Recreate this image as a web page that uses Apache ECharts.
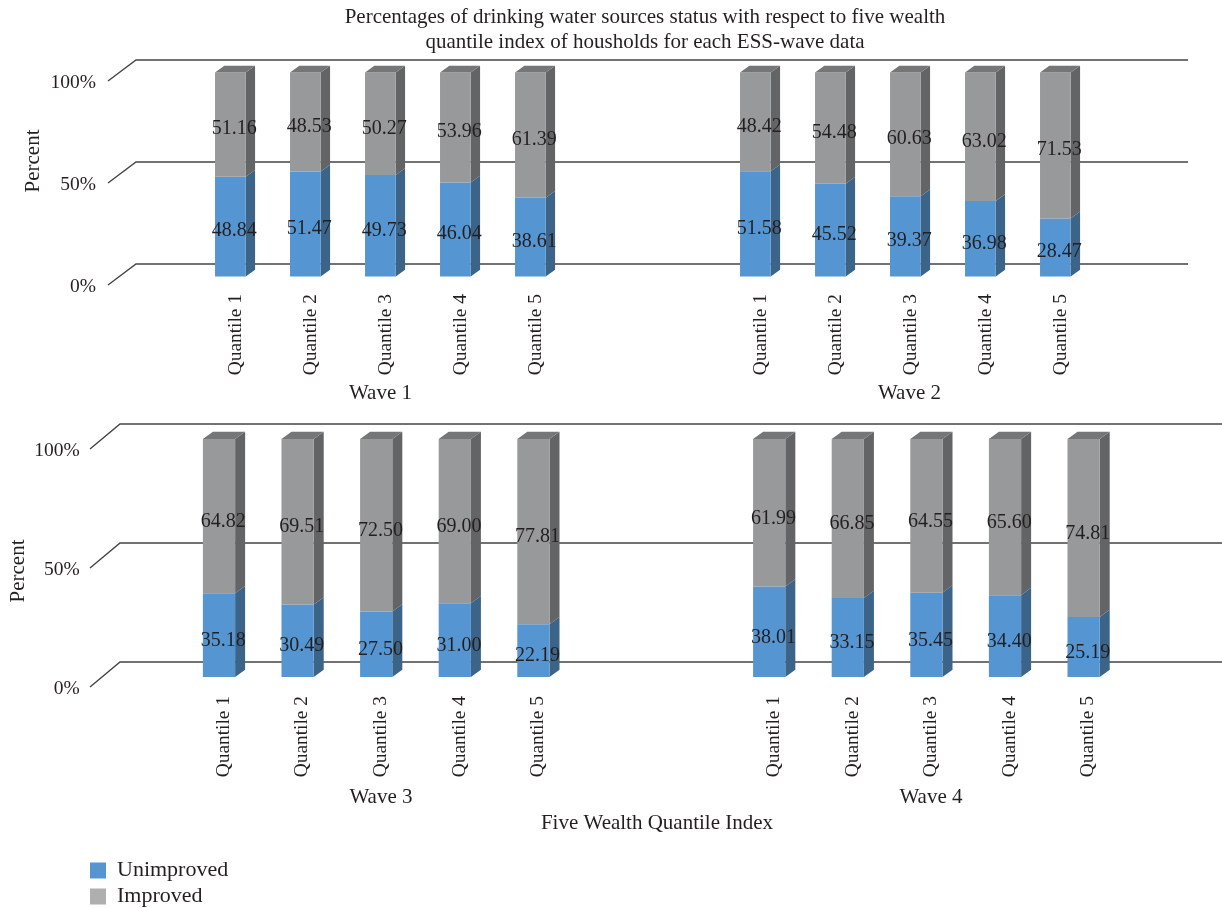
<!DOCTYPE html>
<html><head><meta charset="utf-8">
<style>html,body{margin:0;padding:0;background:#fff}#c{width:1222px;height:908px}</style>
<script src="https://cdn.jsdelivr.net/npm/echarts@6/dist/echarts.min.js"></script>
</head><body><div id="c"></div>
<script>
const categories = ['', 'Quantile 1','Quantile 2','Quantile 3','Quantile 4','Quantile 5','', '', 'Quantile 1','Quantile 2','Quantile 3','Quantile 4','Quantile 5',''];
const topUnimproved = [48.84,51.47,49.73,46.04,38.61, 51.58,45.52,39.37,36.98,28.47];
const topImproved   = [51.16,48.53,50.27,53.96,61.39, 48.42,54.48,60.63,63.02,71.53];
const botUnimproved = [35.18,30.49,27.50,31.00,22.19, 38.01,33.15,35.45,34.40,25.19];
const botImproved   = [64.82,69.51,72.50,69.00,77.81, 61.99,66.85,64.55,65.60,74.81];
const slotIndex = [1,2,3,4,5,8,9,10,11,12];
const yTicks = [0,50,100];

const FONT = '"Liberation Serif", serif';
const INK = '#231f20';
const BLUE = {front:'#5596d2', side:'#3b6488', top:'#3b6488'};
const GREY = {front:'#98999b', side:'#636466', top:'#757678'};

const panels = [
  {left:123.5, top:83, width:1050, height:204, dx:-5.6, dy:-10.5, labelDx:-1.7, labelDy:-6, depthX:9.3, depthY:6.8,
   wallDy:-2, tip:-15.5, back:12.5, rise:21, tail:14.5, un:topUnimproved, im:topImproved},
  {left:105.8, top:451, width:1100.4, height:238, dx:-4.7, dy:-12, labelDx:-0.5, labelDy:-6.5, depthX:10, depthY:7.3,
   wallDy:-2, tip:-15.8, back:14.2, rise:25, tail:16, un:botUnimproved, im:botImproved}
];

function boxSeries(name, gi, p, colors, rows, withTop){
  return {
    type:'custom', name, xAxisIndex:gi, yAxisIndex:gi, z:3, clip:false,
    encode:{x:0,y:[1,2]},
    data:rows,
    renderItem(params, api){
      const i = api.value(0), lo = api.value(1), hi = api.value(2);
      const b = api.coord([i,lo]), t = api.coord([i,hi]);
      const w = api.size([1,0])[0]*0.41;
      const x0 = b[0]-w/2+p.dx, x1 = x0+w, yB = b[1]+p.dy, yT = t[1]+p.dy;
      const dX = p.depthX, dY = p.depthY;
      const kids = [
        {type:'polygon',shape:{points:[[x1,yT],[x1+dX,yT-dY],[x1+dX,yB-dY],[x1,yB]]},style:{fill:colors.side}},
        {type:'rect',shape:{x:x0,y:yT,width:w,height:yB-yT},style:{fill:colors.front}}
      ];
      if(withTop) kids.push({type:'polygon',shape:{points:[[x0,yT],[x0+dX,yT-dY],[x1+dX,yT-dY],[x1,yT]]},style:{fill:colors.top}});
      kids.push({type:'text',z2:10,style:{x:b[0]+p.labelDx,y:(b[1]+t[1])/2+p.labelDy,text:(hi-lo).toFixed(2),
        font:'20px '+FONT,fill:INK,align:'center',verticalAlign:'middle'}});
      return {type:'group',children:kids};
    }
  };
}
function wallSeries(gi,p){
  return {
    type:'custom', name:'walls'+gi, xAxisIndex:gi, yAxisIndex:gi, z:1, clip:false, silent:true,
    encode:{x:0,y:1},
    data:yTicks.map(v=>[0,v]),
    renderItem(params, api){
      const y = api.coord([0,api.value(1)])[1]+p.wallDy;
      const cs = params.coordSys;
      return {type:'polyline',shape:{points:[[cs.x+p.tip,y],[cs.x+p.back,y-p.rise],[cs.x+cs.width+p.tail,y-p.rise]]},
        style:{fill:null,stroke:'#444444',lineWidth:1.4}};
    }
  };
}
const series=[];
panels.forEach((p,gi)=>{
  series.push(wallSeries(gi,p));
  series.push(boxSeries('Unimproved',gi,p,BLUE,slotIndex.map((s,k)=>[s,0,p.un[k]]),false));
  series.push(boxSeries('Improved',gi,p,GREY,slotIndex.map((s,k)=>[s,p.un[k],+(p.un[k]+p.im[k]).toFixed(2)]),true));
});
const txt=(x,y,text,extra)=>({type:'text',x,y,style:Object.assign({text,font:'21px '+FONT,fill:INK,align:'center',verticalAlign:'middle'},extra||{})});

const chart = echarts.init(document.getElementById('c'),null,{renderer:'canvas'});
chart.setOption({
  backgroundColor:'#fff', animation:false,
  title:[{text:'Percentages of drinking water sources status with respect to five wealth\nquantile index of housholds for each ESS-wave data',
    left:645,top:5,padding:0,textAlign:'center',textStyle:{fontFamily:FONT,fontSize:21,fontWeight:'normal',color:INK,lineHeight:25}}],
  legend:{left:90,top:858,height:60,padding:0,orient:'vertical',itemWidth:16,itemHeight:16,itemGap:1,
    textStyle:{fontFamily:FONT,fontSize:22,color:INK,lineHeight:25,padding:[0,0,0,6]},
    data:[{name:'Unimproved',icon:'rect',itemStyle:{color:'#5596d2'}},{name:'Improved',icon:'rect',itemStyle:{color:'#aeafb1'}}]},
  grid:panels.map(p=>({left:p.left,top:p.top,width:p.width,height:p.height,containLabel:false})),
  xAxis:panels.map((p,i)=>({type:'category',gridIndex:i,data:categories,axisLine:{show:false},axisTick:{show:false},
    axisLabel:{interval:0,rotate:90,margin:7,fontFamily:FONT,fontSize:19.4,color:INK}})),
  yAxis:panels.map((p,i)=>({type:'value',gridIndex:i,min:0,max:100,interval:50,splitLine:{show:false},axisLine:{show:false},axisTick:{show:false},
    axisLabel:{margin:i?26:27.5,fontFamily:FONT,fontSize:19.5,color:INK,formatter:'{value}%'}})),
  series,
  graphic:{elements:[
    txt(380.5,393.5,'Wave 1'),txt(909.5,393.5,'Wave 2'),txt(381,797.5,'Wave 3'),txt(931,797.5,'Wave 4'),
    txt(657,823.5,'Five Wealth Quantile Index'),
    Object.assign(txt(33,161,'Percent'),{rotation:Math.PI/2}),
    Object.assign(txt(18,571,'Percent'),{rotation:Math.PI/2})
  ]}
});
</script></body></html>
